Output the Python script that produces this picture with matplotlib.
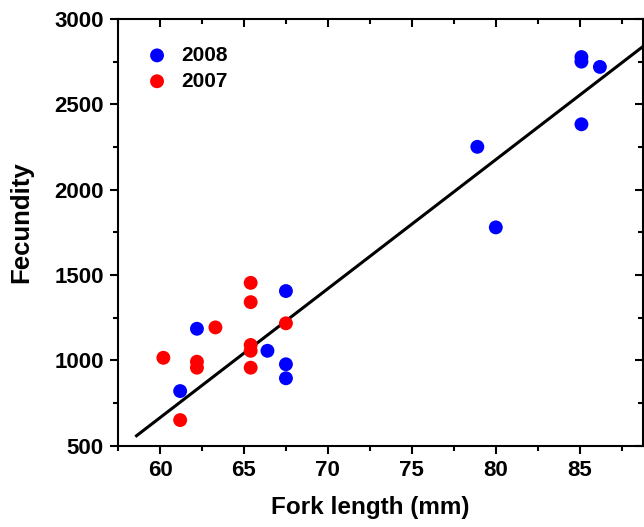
import matplotlib
matplotlib.use("Agg")
import matplotlib.pyplot as plt
import numpy as np
from matplotlib.ticker import MultipleLocator

plt.rcParams['font.family'] = ['Liberation Sans', 'DejaVu Sans']
plt.rcParams['font.weight'] = 'bold'

# Data
x_2008 = [61.2, 62.2, 66.4, 67.5, 67.5, 67.5, 78.9, 80.0, 85.1, 85.1, 85.1, 86.2]
y_2008 = [820, 1185, 1056, 1406, 977, 895, 2251, 1779, 2777, 2750, 2383, 2719]

x_2007 = [60.2, 61.2, 62.2, 62.2, 63.3, 65.4, 65.4, 65.4, 65.4, 65.4, 67.5]
y_2007 = [1015, 650, 992, 957, 1193, 1454, 1341, 1090, 1056, 957, 1217]

# fitted line
slope = 75.6
intercept = -3872
line_x = [58.6, 90]

fig = plt.figure(figsize=(6.44, 5.27), dpi=100)
ax = fig.add_axes([0.1825, 0.1543, 0.8155, 0.8097])

ax.scatter(x_2008, y_2008, s=100, color='#0000ff', edgecolors='none', label='2008', zorder=3)
ax.scatter(x_2007, y_2007, s=100, color='#ff0000', edgecolors='none', label='2007', zorder=3)

lx = np.array(line_x)
ax.plot(lx, slope * lx + intercept, color='black', lw=2.2, zorder=2)

ax.set_xlim(57.47, 88.75)
ax.set_ylim(500, 3000)
ax.xaxis.set_major_locator(MultipleLocator(5))
ax.xaxis.set_minor_locator(MultipleLocator(2.5))
ax.yaxis.set_major_locator(MultipleLocator(500))
ax.yaxis.set_minor_locator(MultipleLocator(250))

for s in ax.spines.values():
    s.set_linewidth(1.5)

ax.tick_params(which='major', direction='out', length=6, width=1.5, labelsize=16, pad=4)
ax.tick_params(which='minor', direction='out', length=3.5, width=1.5)
ax.tick_params(which='both', top=True, right=True)
# top and right ticks point inward
for t in ax.xaxis.get_major_ticks() + ax.xaxis.get_minor_ticks():
    t.tick2line.set_marker(3)
for t in ax.yaxis.get_major_ticks() + ax.yaxis.get_minor_ticks():
    t.tick2line.set_marker(0)

for lab in ax.get_xticklabels() + ax.get_yticklabels():
    lab.set_fontweight('bold')

ax.set_xlabel('Fork length (mm)', fontsize=17.5, fontweight='bold')
ax.set_ylabel('Fecundity', fontsize=18.5, fontweight='bold')
ax.xaxis.set_label_coords(0.482, -0.118)
ax.yaxis.set_label_coords(-0.161, 0.524)

ax.legend(loc='upper left', bbox_to_anchor=(0.0554, 0.937), frameon=False,
          handlelength=1.0, handletextpad=0.65, borderaxespad=0, borderpad=0,
          labelspacing=0.33, scatterpoints=1,
          prop={'weight': 'bold', 'size': 15})

fig.savefig('out.png', dpi=100)
